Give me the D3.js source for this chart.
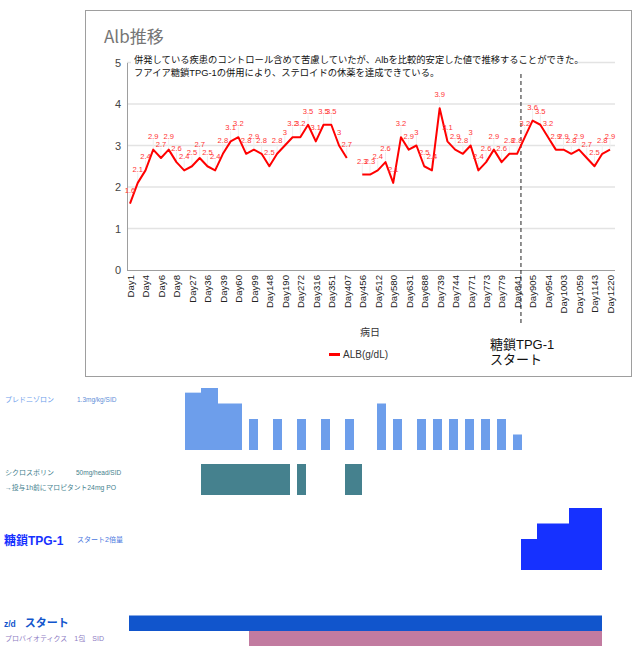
<!DOCTYPE html>
<html>
<head>
<meta charset="utf-8">
<script src="https://cdn.jsdelivr.net/npm/d3@7"></script>
<style>
  body { margin: 0; background: #fff; }
  text { font-family: "Liberation Sans", Arial, "Noto Sans CJK JP", sans-serif; }
  .jp { font-family: "Noto Sans CJK JP", "Liberation Sans", sans-serif; }
</style>
</head>
<body>
<script>
// Alb values per visit (null = no measurement, line breaks there)
var albValues = [1.6, 2.1, 2.4, 2.9, 2.7, 2.9, 2.6, 2.4, 2.5, 2.7, 2.5, 2.4, 2.8, 3.1, 3.2, 2.8,
                 2.9, 2.8, 2.5, 2.8, 3, 3.2, 3.2, 3.5, 3.1, 3.5, 3.5, 3, 2.7, null,
                 2.3, 2.3, 2.4, 2.6, 2.1, 3.2, 2.9, 3, 2.5, 2.4, 3.9, 3.1, 2.9, 2.8, 3, 2.4,
                 2.6, 2.9, 2.6, 2.8, 2.8, 3.2, 3.6, 3.5, 3.2, 2.9, 2.9, 2.8, 2.9, 2.7, 2.5, 2.8, 2.9];
// only every second visit is labelled on the axis
var dayLabels = ["Day1", "Day4", "Day6", "Day8", "Day27", "Day36", "Day39", "Day60", "Day99",
                 "Day148", "Day190", "Day272", "Day316", "Day351", "Day407", "Day456", "Day512",
                 "Day580", "Day631", "Day688", "Day739", "Day744", "Day771", "Day773", "Day779",
                 "Day841", "Day905", "Day954", "Day1003", "Day1059", "Day1143", "Day1220"];
var yTicks = [0, 1, 2, 3, 4, 5];
var tpgStartIndex = 50.5;

// medication timeline (start, length in timeline units, dose level)
var predStart = [7, 9, 11, 15, 18, 21, 24, 27, 31, 33, 36, 38, 40, 42, 44, 46, 48];
var predLen   = [2, 2, 3, 1, 1, 1, 1, 1, 1, 1, 1, 1, 1, 1, 1, 1, 1];
var predDose  = [3.7, 4, 3, 2, 2, 2, 2, 2, 3, 2, 2, 2, 2, 2, 2, 2, 1];
var cycStart = [9, 21, 27];
var cycLen   = [11, 1, 2];
var cycDose  = [2, 2, 2];
var tpgStart = [49, 51, 55];
var tpgLen   = [2, 4, 4];
var tpgDose  = [2, 3, 4];
var zdStart = [0], zdLen = [59], zdDose = [1];
var proStart = [15], proLen = [44], proDose = [1];

var svg = d3.select("body").append("svg")
    .attr("width", 640)
    .attr("height", 656);

// ---------- chart frame ----------
svg.append("rect")
   .attr("x", 85.5).attr("y", 10.5)
   .attr("width", 546).attr("height", 366)
   .attr("fill", "#fff").attr("stroke", "#9e9e9e");

svg.append("text").attr("class", "jp")
   .attr("x", 104).attr("y", 43)
   .attr("font-size", 17).attr("fill", "#757575")
   .text("Alb推移");

var x = d3.scalePoint()
          .domain(d3.range(albValues.length))
          .range([130, 610]);
var y = d3.scaleLinear().domain([0, 5]).range([270, 62.5]);

// gridlines
svg.append("g").selectAll("line")
   .data(yTicks.slice(1))
   .enter().append("line")
   .attr("x1", 127).attr("x2", 615)
   .attr("y1", d => y(d)).attr("y2", d => y(d))
   .attr("stroke", "#e3e3e3").attr("stroke-width", 1.5);

// y axis
var yAxis = svg.append("g")
   .attr("transform", "translate(127,0)")
   .call(d3.axisLeft(y).tickValues(yTicks).tickFormat(d3.format("d")).tickSize(0).tickPadding(6));
yAxis.select(".domain").attr("stroke", "#9e9e9e");
yAxis.selectAll("text").attr("font-size", 11).attr("fill", "#444")
     .attr("font-family", "Liberation Sans, Arial, sans-serif");

// x axis
var xAxis = svg.append("g")
   .attr("transform", "translate(0,270)")
   .call(d3.axisBottom(x)
           .tickValues(d3.range(0, albValues.length, 2))
           .tickFormat(i => dayLabels[i / 2])
           .tickSize(0));
xAxis.select(".domain").attr("d", "M127,0.5H615").attr("stroke", "#9e9e9e");
xAxis.selectAll("text")
     .attr("font-size", 9.6).attr("fill", "#222")
     .attr("font-family", "Liberation Sans, Arial, sans-serif")
     .attr("text-anchor", "end")
     .attr("dy", "0.35em")
     .attr("transform", "translate(0,5) rotate(-90)")
     .attr("y", 0).attr("x", 0);

// annotation (white backing hides the top gridline)
svg.append("rect")
   .attr("x", 131).attr("y", 51).attr("width", 446).attr("height", 28)
   .attr("fill", "#fff");
var note = svg.append("g").attr("class", "jp")
   .attr("font-size", 9.3).attr("fill", "#111");
note.append("text").attr("x", 134).attr("y", 63)
    .text("併発している疾患のコントロール含めて苦慮していたが、Albを比較的安定した値で推移することができた。");
note.append("text").attr("x", 134).attr("y", 76)
    .text("フアイア糖鎖TPG-1の併用により、ステロイドの休薬を達成できている。");

// TPG-1 start marker
var tx = 130 + (610 - 130) * tpgStartIndex / (albValues.length - 1);
svg.append("line")
   .attr("x1", tx).attr("x2", tx).attr("y1", 74).attr("y2", 326)
   .attr("stroke", "#222").attr("stroke-dasharray", "4,3");

// leader lines + data labels
var pts = albValues.map((v, i) => ({ i: i, v: v })).filter(d => d.v !== null);
svg.append("g").selectAll("line")
   .data(pts).enter().append("line")
   .attr("x1", d => x(d.i)).attr("x2", d => x(d.i))
   .attr("y1", d => y(d.v) - 10).attr("y2", d => y(d.v))
   .attr("stroke", "#efefef");

var line = d3.line()
    .defined(d => d !== null)
    .x((d, i) => x(i))
    .y(d => y(d));
svg.append("path")
   .datum(albValues)
   .attr("d", line)
   .attr("fill", "none")
   .attr("stroke", "#ff0000")
   .attr("stroke-width", 2)
   .attr("stroke-linejoin", "round");

svg.append("g").selectAll("text")
   .data(pts).enter().append("text")
   .attr("x", d => x(d.i)).attr("y", d => y(d.v) - 11)
   .attr("text-anchor", "middle")
   .attr("font-size", 7.6).attr("fill", "#ff3535")
   .text(d => d.v);

// axis title + legend
svg.append("text").attr("class", "jp")
   .attr("x", 370).attr("y", 336).attr("text-anchor", "middle")
   .attr("font-size", 10).attr("fill", "#333").text("病日");
svg.append("rect").attr("x", 329).attr("y", 353).attr("width", 11).attr("height", 3)
   .attr("fill", "#ff0000");
svg.append("text").attr("x", 343).attr("y", 358)
   .attr("font-size", 10).attr("fill", "#333").text("ALB(g/dL)");

var tpgNote = svg.append("g").attr("class", "jp").attr("font-size", 13).attr("fill", "#111");
tpgNote.append("text").attr("x", 490).attr("y", 349).text("糖鎖TPG-1");
tpgNote.append("text").attr("x", 490).attr("y", 364).text("スタート");

// ---------- medication timeline ----------
var tl = d3.scaleLinear().domain([0, 59]).range([129, 601]);
var lv = d3.scaleLinear().domain([0, 4]).range([0, 62]);

function drawBars(starts, lens, doses, base, color) {
  svg.append("g").selectAll("rect")
     .data(starts).enter().append("rect")
     .attr("x", d => tl(d))
     .attr("width", (d, i) => tl(d + lens[i]) - tl(d) + 1)
     .attr("y", (d, i) => base - lv(doses[i]))
     .attr("height", (d, i) => lv(doses[i]))
     .attr("fill", color);
}
drawBars(predStart, predLen, predDose, 450, "#6d9eeb");
drawBars(cycStart, cycLen, cycDose, 495, "#45818e");
drawBars(tpgStart, tpgLen, tpgDose, 570, "#1631ff");
drawBars(proStart, proLen, proDose, 646, "#c27ba0");
drawBars(zdStart, zdLen, zdDose, 631, "#1155cc");

var lab = svg.append("g").attr("class", "jp");
lab.append("text").attr("x", 5).attr("y", 402).attr("font-size", 7).attr("fill", "#6d9eeb").text("プレドニゾロン");
lab.append("text").attr("x", 77).attr("y", 402).attr("font-size", 6.5).attr("fill", "#5f8fd8").text("1.3mg/kg/SID");
lab.append("text").attr("x", 5).attr("y", 475).attr("font-size", 7).attr("fill", "#45818e").text("シクロスポリン");
lab.append("text").attr("x", 76).attr("y", 475).attr("font-size", 6.5).attr("fill", "#45818e").text("50mg/head/SID");
lab.append("text").attr("x", 5).attr("y", 490).attr("font-size", 6.8).attr("fill", "#45818e").text("→投与1h前にマロピタント24mg PO");
lab.append("text").attr("x", 4).attr("y", 545).attr("font-size", 12).attr("font-weight", "bold").attr("fill", "#1631ff").text("糖鎖TPG-1");
lab.append("text").attr("x", 77).attr("y", 542).attr("font-size", 7).attr("fill", "#4a78e0").text("スタート2倍量");
var zd = lab.append("text").attr("x", 4).attr("y", 627).attr("font-weight", "bold").attr("fill", "#1155cc");
zd.append("tspan").attr("font-size", 8.5).text("z/d");
zd.append("tspan").attr("font-size", 11).attr("dx", 9).text("スタート");
lab.append("text").attr("x", 5).attr("y", 641).attr("font-size", 7).attr("fill", "#8e7cc3").text("プロバイオティクス　1包　SID");
</script>
</body>
</html>
